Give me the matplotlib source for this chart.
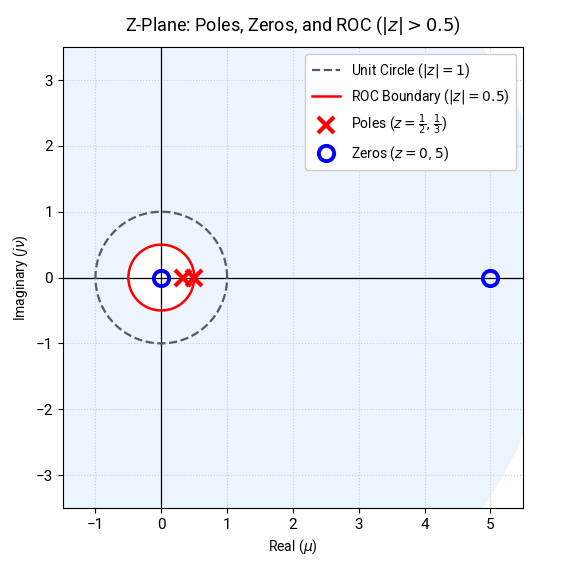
"""
Z-plane plot: poles, zeros and region of convergence (|z| > 0.5).
"""
import numpy as np
import matplotlib
matplotlib.use("Agg")
import matplotlib.pyplot as plt

plt.rcParams['font.family'] = ['Roboto', 'DejaVu Sans']

# Data
poles = [1 / 2, 1 / 3]
zeros = [0, 5]
roc_radius = 0.5
unit_radius = 1.0
fill_outer = 6.0

fig = plt.figure(figsize=(5.87, 5.69), dpi=100)
ax = fig.add_axes([0.1056, 0.1072, 0.787, 0.810])

theta = np.linspace(0, 2 * np.pi, 400)

# ROC shading: annulus from ROC boundary out to a large radius
outer_x = fill_outer * np.cos(theta)
outer_y = fill_outer * np.sin(theta)
inner_x = roc_radius * np.cos(theta[::-1])
inner_y = roc_radius * np.sin(theta[::-1])
ax.fill(np.concatenate([outer_x, inner_x]), np.concatenate([outer_y, inner_y]),
        color='#ecf4fe', lw=0, zorder=0)

ax.axhline(0, color='black', lw=0.9, zorder=1)
ax.axvline(0, color='black', lw=0.9, zorder=1)

ax.plot(unit_radius * np.cos(theta), unit_radius * np.sin(theta), '--',
        color='#555b66', lw=1.6, label=r'Unit Circle ($|z|=1$)', zorder=2)
ax.plot(roc_radius * np.cos(theta), roc_radius * np.sin(theta), '-',
        color='red', lw=1.8, label=r'ROC Boundary ($|z|=0.5$)', zorder=2)

ax.plot(np.real(poles), np.imag(poles), 'x', color='red', markersize=11,
        markeredgewidth=3, linestyle='none',
        label=r'Poles ($z=\frac{1}{2},\frac{1}{3}$)', zorder=3)
ax.plot(np.real(zeros), np.imag(zeros), 'o', markerfacecolor='none',
        markeredgecolor='blue', markersize=11, markeredgewidth=2.8,
        linestyle='none', label=r'Zeros ($z=0,5$)', zorder=3)

ax.set_xlim(-1.5, 5.5)
ax.set_ylim(-3.5, 3.5)
ax.set_aspect('equal')
ax.set_xticks(range(-1, 6))
ax.set_yticks(range(-3, 4))
ax.tick_params(labelsize=11)
ax.grid(True, linestyle=':', color='#c8ccd4', lw=0.8)
ax.set_axisbelow(True)

ax.set_title(r'Z-Plane: Poles, Zeros, and ROC ($|z|>0.5$)', fontsize=13, pad=12)
ax.set_xlabel(r'Real ($\mu$)', fontsize=10)
ax.set_ylabel(r'Imaginary ($j\nu$)', fontsize=10)

ax.legend(loc='upper right', fontsize=10, framealpha=1.0, borderpad=0.5,
          labelspacing=0.5)

fig.savefig('out.png', dpi=100)
